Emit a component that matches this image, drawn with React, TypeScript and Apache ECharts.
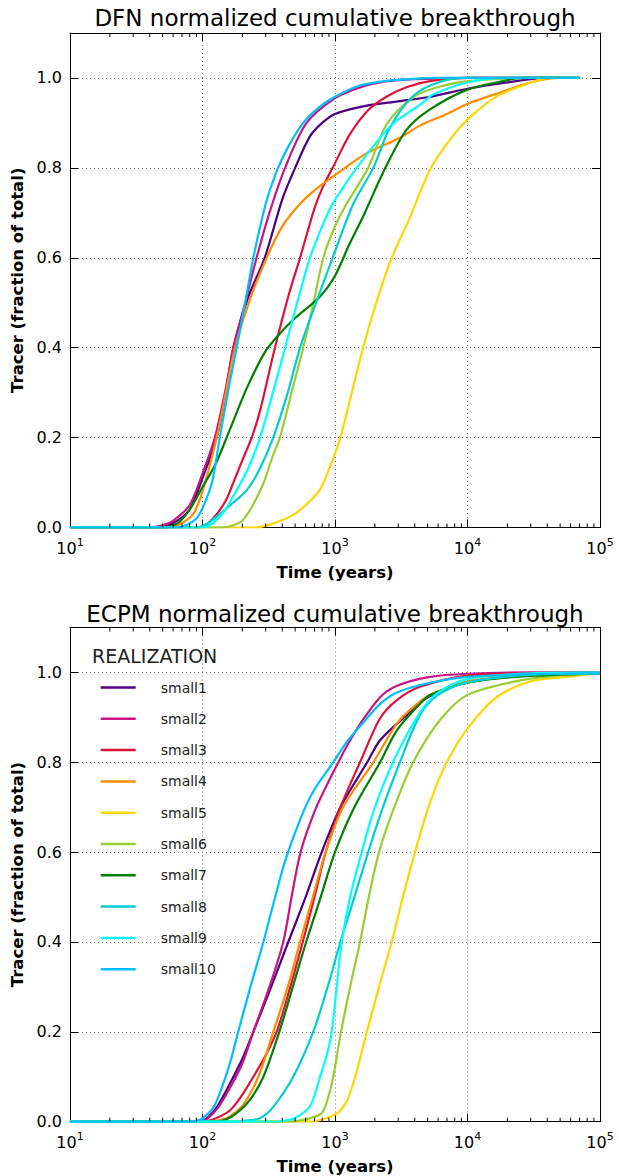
import React, { useEffect, useRef } from 'react';
import * as echarts from 'echarts';

const FONT = 'DejaVu Sans';

const NAMES = ['small1', 'small2', 'small3', 'small4', 'small5', 'small6', 'small7', 'small8', 'small9', 'small10'];
const COLORS = ['#4B0082', '#C71585', '#DC143C', '#FF8C00', '#FFD700', '#9ACD32', '#008000', '#00CED1', '#00FFFF', '#00BFFF'];

const TITLES = ['DFN normalized cumulative breakthrough', 'ECPM normalized cumulative breakthrough'];
const X_NAME = 'Time (years)';
const Y_NAME = 'Tracer (fraction of total)';
const LEGEND_TITLE = 'REALIZATION';

const MINOR_X = [
  20, 30, 40, 50, 60, 70, 80, 90,
  200, 300, 400, 500, 600, 700, 800, 900,
  2000, 3000, 4000, 5000, 6000, 7000, 8000, 9000,
  20000, 30000, 40000, 50000, 60000, 70000, 80000, 90000,
];

type P = [number, number];

// ---- DFN (top) ----
const dfnSmall1: P[] = [[10, 0], [45, 0], [60, 0.01], [80, 0.04], [100, 0.11], [128, 0.2], [150, 0.3], [171, 0.4], [220, 0.51], [295, 0.6], [400, 0.73], [500, 0.8], [647, 0.87], [800, 0.9], [1000, 0.92], [1700, 0.938], [3000, 0.948], [5000, 0.957], [10000, 0.976], [20000, 0.99], [40000, 1], [70000, 1]];
const dfnSmall2: P[] = [[10, 0], [38, 0], [50, 0.005], [60, 0.015], [80, 0.05], [100, 0.12], [124, 0.2], [150, 0.31], [171, 0.4], [210, 0.5], [256, 0.6], [320, 0.7], [420, 0.8], [610, 0.9], [1000, 0.955], [1500, 0.978], [2000, 0.988], [3000, 0.995], [5000, 0.998], [10000, 1], [70000, 1]];
const dfnSmall3: P[] = [[10, 0], [95, 0], [120, 0.02], [150, 0.06], [171, 0.1], [200, 0.15], [235, 0.2], [272, 0.26], [352, 0.4], [450, 0.52], [545, 0.6], [700, 0.71], [816, 0.76], [960, 0.8], [1297, 0.875], [1800, 0.93], [2500, 0.96], [3500, 0.98], [5200, 0.993], [10000, 1], [70000, 1]];
const dfnSmall4: P[] = [[10, 0], [55, 0], [70, 0.01], [85, 0.03], [100, 0.08], [128, 0.2], [150, 0.3], [176, 0.4], [230, 0.51], [305, 0.6], [400, 0.67], [545, 0.72], [700, 0.75], [960, 0.78], [1680, 0.83], [3090, 0.867], [4370, 0.894], [7000, 0.92], [10140, 0.943], [18600, 0.97], [29600, 0.99], [50000, 1], [70000, 1]];
const dfnSmall5: P[] = [[10, 0], [250, 0], [350, 0.01], [484, 0.028], [600, 0.05], [771, 0.085], [916, 0.135], [1098, 0.2], [1300, 0.285], [1630, 0.4], [2000, 0.49], [2600, 0.59], [3680, 0.69], [5210, 0.796], [7380, 0.863], [10140, 0.909], [16600, 0.959], [29600, 0.989], [42000, 1], [70000, 1]];
const dfnSmall6: P[] = [[10, 0], [140, 0], [170, 0.005], [200, 0.015], [240, 0.05], [290, 0.1], [340, 0.16], [384, 0.2], [470, 0.3], [576, 0.4], [700, 0.51], [816, 0.6], [1000, 0.67], [1225, 0.72], [1780, 0.8], [2455, 0.897], [3890, 0.957], [6000, 0.98], [10000, 0.993], [30000, 1], [70000, 1]];
const dfnSmall7: P[] = [[10, 0], [50, 0], [65, 0.01], [80, 0.04], [100, 0.09], [125, 0.14], [157, 0.21], [216, 0.31], [296, 0.39], [380, 0.43], [484, 0.462], [771, 0.514], [1000, 0.56], [1297, 0.633], [1630, 0.692], [2400, 0.8], [3475, 0.885], [5210, 0.93], [10000, 0.974], [18600, 0.993], [25000, 1], [70000, 1]];
const dfnSmall8: P[] = [[10, 0], [90, 0], [110, 0.01], [135, 0.03], [170, 0.055], [216, 0.083], [270, 0.13], [342, 0.2], [440, 0.3], [545, 0.4], [700, 0.49], [960, 0.6], [1375, 0.72], [1945, 0.8], [2600, 0.89], [3890, 0.96], [6000, 0.99], [10000, 1], [70000, 1]];
const dfnSmall9: P[] = [[10, 0], [100, 0], [120, 0.01], [145, 0.035], [171, 0.07], [220, 0.13], [272, 0.2], [340, 0.3], [420, 0.4], [530, 0.51], [647, 0.6], [800, 0.67], [960, 0.72], [1459, 0.8], [2300, 0.875], [2916, 0.905], [4370, 0.94], [5500, 0.963], [10000, 0.99], [20000, 1], [70000, 1]];
const dfnSmall10: P[] = [[10, 0], [60, 0], [75, 0.005], [90, 0.02], [101, 0.046], [118, 0.1], [135, 0.2], [160, 0.32], [181, 0.4], [210, 0.5], [242, 0.6], [300, 0.72], [360, 0.79], [440, 0.845], [576, 0.9], [760, 0.935], [1000, 0.958], [1500, 0.982], [2200, 0.992], [3500, 0.997], [6000, 1], [70000, 1]];

// ---- ECPM (bottom) ----
const ecpmSmall1: P[] = [[10, 0], [95, 0], [110, 0.01], [130, 0.035], [161, 0.085], [200, 0.14], [242, 0.2], [330, 0.3], [444, 0.4], [600, 0.5], [794, 0.6], [1100, 0.7], [1750, 0.8], [2190, 0.849], [3475, 0.905], [4740, 0.94], [7000, 0.965], [10000, 0.978], [20000, 0.99], [30000, 0.995], [100000, 0.998]];
const ecpmSmall2: P[] = [[10, 0], [95, 0], [110, 0.008], [130, 0.03], [161, 0.075], [200, 0.13], [242, 0.2], [320, 0.3], [407, 0.4], [470, 0.5], [550, 0.6], [700, 0.69], [870, 0.75], [1060, 0.8], [1250, 0.84], [1545, 0.885], [2190, 0.945], [2916, 0.97], [5210, 0.99], [10000, 0.997], [30000, 1], [100000, 1]];
const ecpmSmall3: P[] = [[10, 0], [100, 0], [120, 0.005], [161, 0.025], [200, 0.06], [242, 0.1], [290, 0.14], [363, 0.2], [460, 0.3], [571, 0.4], [700, 0.5], [850, 0.6], [1100, 0.7], [1545, 0.8], [2190, 0.898], [2916, 0.938], [4370, 0.968], [10000, 0.993], [30000, 0.998], [100000, 1]];
const ecpmSmall4: P[] = [[10, 0], [110, 0], [140, 0.005], [161, 0.012], [200, 0.035], [264, 0.1], [342, 0.2], [440, 0.3], [545, 0.4], [680, 0.5], [850, 0.6], [1150, 0.7], [1946, 0.8], [3000, 0.89], [4370, 0.935], [5210, 0.95], [10000, 0.98], [30000, 0.995], [100000, 0.998]];
const ecpmSmall5: P[] = [[10, 0], [650, 0], [800, 0.005], [916, 0.011], [1050, 0.02], [1225, 0.045], [1420, 0.1], [1740, 0.2], [2150, 0.3], [2680, 0.4], [3250, 0.5], [4020, 0.6], [5210, 0.71], [6970, 0.8], [10000, 0.875], [16600, 0.945], [30000, 0.98], [55000, 0.99], [100000, 0.998]];
const ecpmSmall6: P[] = [[10, 0], [450, 0], [550, 0.003], [650, 0.008], [800, 0.02], [900, 0.06], [970, 0.1], [1110, 0.2], [1300, 0.3], [1545, 0.4], [1800, 0.5], [2150, 0.6], [2800, 0.7], [3890, 0.8], [6200, 0.894], [10000, 0.95], [23000, 0.98], [55000, 0.995], [100000, 0.997]];
const ecpmSmall7: P[] = [[10, 0], [120, 0], [150, 0.005], [183, 0.02], [230, 0.05], [288, 0.1], [380, 0.2], [480, 0.3], [606, 0.4], [780, 0.5], [1000, 0.6], [1400, 0.7], [2190, 0.8], [2916, 0.87], [4370, 0.93], [5210, 0.95], [10000, 0.977], [23000, 0.99], [100000, 0.997]];
const ecpmSmall8: P[] = [[10, 0], [170, 0], [220, 0.003], [272, 0.008], [342, 0.033], [484, 0.1], [685, 0.2], [880, 0.3], [1098, 0.4], [1400, 0.5], [1780, 0.6], [2300, 0.7], [3090, 0.8], [4370, 0.905], [6000, 0.95], [10000, 0.978], [30000, 0.995], [100000, 0.998]];
const ecpmSmall9: P[] = [[10, 0], [350, 0], [450, 0.004], [514, 0.01], [650, 0.035], [771, 0.1], [870, 0.15], [944, 0.2], [1030, 0.3], [1125, 0.4], [1300, 0.5], [1590, 0.6], [2000, 0.7], [2840, 0.81], [4370, 0.91], [6000, 0.955], [10000, 0.985], [30000, 0.998], [100000, 1]];
const ecpmSmall10: P[] = [[10, 0], [80, 0], [95, 0.004], [101, 0.008], [120, 0.03], [135, 0.063], [161, 0.13], [186, 0.2], [230, 0.3], [288, 0.4], [350, 0.495], [420, 0.58], [550, 0.675], [685, 0.735], [970, 0.8], [1225, 0.845], [1545, 0.88], [2190, 0.93], [2916, 0.955], [5210, 0.977], [10000, 0.99], [30000, 0.996], [100000, 0.998]];

const DFN = [dfnSmall1, dfnSmall2, dfnSmall3, dfnSmall4, dfnSmall5, dfnSmall6, dfnSmall7, dfnSmall8, dfnSmall9, dfnSmall10];
const ECPM = [ecpmSmall1, ecpmSmall2, ecpmSmall3, ecpmSmall4, ecpmSmall5, ecpmSmall6, ecpmSmall7, ecpmSmall8, ecpmSmall9, ecpmSmall10];

const GRIDS = [
  { left: 70, top: 33, width: 530, height: 494.5 },
  { left: 70, top: 627.5, width: 530, height: 494.2 },
];

const BLACK = { color: '#000', width: 1 };
const GRID_LINE = { color: '#777', width: 1, type: [1, 3] as number[] };

function xAxes(g: number) {
  const base = { type: 'log', logBase: 10, min: 10, max: 100000, gridIndex: g };
  return [
    {
      ...base,
      position: 'bottom',
      name: X_NAME,
      nameLocation: 'middle',
      nameGap: 36,
      nameTextStyle: { fontFamily: FONT, fontWeight: 'bold', fontSize: 16.5, color: '#000' },
      axisLine: { show: true, onZero: false, lineStyle: BLACK },
      axisTick: { show: true, inside: true, length: 8, lineStyle: BLACK },
      axisLabel: {
        show: true,
        margin: 9,
        formatter: (v: number) => `{b|10}{s|${Math.round(Math.log10(v))}}`,
        rich: {
          b: { fontFamily: FONT, fontSize: 16, color: '#000', lineHeight: 20, verticalAlign: 'bottom' },
          s: { fontFamily: FONT, fontSize: 11, color: '#000', lineHeight: 8, verticalAlign: 'top' },
        },
      },
      splitLine: { show: true, lineStyle: GRID_LINE },
    },
    {
      ...base,
      position: 'top',
      axisLine: { show: true, onZero: false, lineStyle: BLACK },
      axisTick: { show: true, inside: true, length: 8, lineStyle: BLACK },
      axisLabel: { show: false },
      splitLine: { show: false },
    },
  ];
}

function yAxes(g: number) {
  const base = { type: 'value', min: 0, max: 1.1, interval: 0.2, gridIndex: g };
  return [
    {
      ...base,
      position: 'left',
      name: Y_NAME,
      nameLocation: 'middle',
      nameGap: 40,
      nameTextStyle: { fontFamily: FONT, fontWeight: 'bold', fontSize: 16.5, color: '#000' },
      axisLine: { show: true, onZero: false, lineStyle: BLACK },
      axisTick: { show: true, inside: true, length: 8, lineStyle: BLACK },
      axisLabel: {
        show: true,
        margin: 8,
        fontFamily: FONT,
        fontSize: 16,
        color: '#000',
        showMaxLabel: false,
        formatter: (v: number) => (v > 1.05 ? '' : v.toFixed(1)),
      },
      splitLine: { show: true, lineStyle: GRID_LINE },
    },
    {
      ...base,
      position: 'right',
      axisLine: { show: true, onZero: false, lineStyle: BLACK },
      axisTick: { show: true, inside: true, length: 8, lineStyle: BLACK },
      axisLabel: { show: false },
      splitLine: { show: false },
    },
  ];
}

function minorTicks(g: number) {
  return {
    type: 'custom',
    name: 'minor-ticks-' + g,
    xAxisIndex: g * 2,
    yAxisIndex: g * 2,
    silent: true,
    z: 5,
    data: MINOR_X.map((v) => [v, 0]),
    renderItem: (_p: any, api: any) => {
      const v = api.value(0);
      const b = api.coord([v, 0]);
      const t = api.coord([v, 1.1]);
      return {
        type: 'group',
        children: [
          { type: 'line', shape: { x1: b[0], y1: b[1], x2: b[0], y2: b[1] - 4 }, style: { stroke: '#000', lineWidth: 1 } },
          { type: 'line', shape: { x1: t[0], y1: t[1], x2: t[0], y2: t[1] + 4 }, style: { stroke: '#000', lineWidth: 1 } },
        ],
      };
    },
  };
}

function lineSeries(g: number, sets: P[][]) {
  return NAMES.map((n, i) => ({
    type: 'line',
    name: n,
    xAxisIndex: g * 2,
    yAxisIndex: g * 2,
    data: sets[i],
    symbol: 'none',
    showSymbol: false,
    smooth: 0.3,
    lineStyle: { width: 2.2, color: COLORS[i] },
    itemStyle: { color: COLORS[i] },
    z: 3,
  }));
}

function titleText(text: string, y: number) {
  return {
    type: 'text',
    x: 335,
    y,
    style: {
      text,
      font: `23px "${FONT}"`,
      fill: '#000',
      align: 'center',
      verticalAlign: 'middle',
      textAlign: 'center',
      textVerticalAlign: 'middle',
    },
  };
}

export default function App() {
  const ref = useRef<HTMLDivElement>(null);
  useEffect(() => {
    if (!ref.current) return;
    const chart = echarts.init(ref.current, undefined, { renderer: 'svg' });
    chart.setOption({
      animation: false,
      backgroundColor: '#fff',
      textStyle: { fontFamily: FONT },
      grid: GRIDS.map((g) => ({ ...g, containLabel: false })),
      xAxis: [...xAxes(0), ...xAxes(1)],
      yAxis: [...yAxes(0), ...yAxes(1)],
      legend: {
        data: NAMES,
        orient: 'vertical',
        left: 100.7,
        top: 679.5,
        padding: 0,
        itemWidth: 35,
        itemHeight: 2.5,
        itemGap: 15.3,
        icon: 'rect',
        selectedMode: false,
        textStyle: { fontFamily: FONT, fontSize: 14, color: '#222', lineHeight: 16, padding: [0, 0, 0, 20] },
      },
      graphic: [
        titleText(TITLES[0], 18),
        titleText(TITLES[1], 614),
        {
          type: 'text',
          x: 92,
          y: 656,
          style: {
            text: LEGEND_TITLE,
            font: `19px "${FONT}"`,
            fill: '#222',
            align: 'left',
            verticalAlign: 'middle',
            textAlign: 'left',
            textVerticalAlign: 'middle',
          },
        },
      ],
      series: [...lineSeries(0, DFN), ...lineSeries(1, ECPM), minorTicks(0), minorTicks(1)],
    });
    return () => chart.dispose();
  }, []);
  return (
    <div
      ref={ref}
      style={{ position: 'absolute', left: 0, top: 0, width: 619, height: 1176, background: '#fff' }}
    />
  );
}
